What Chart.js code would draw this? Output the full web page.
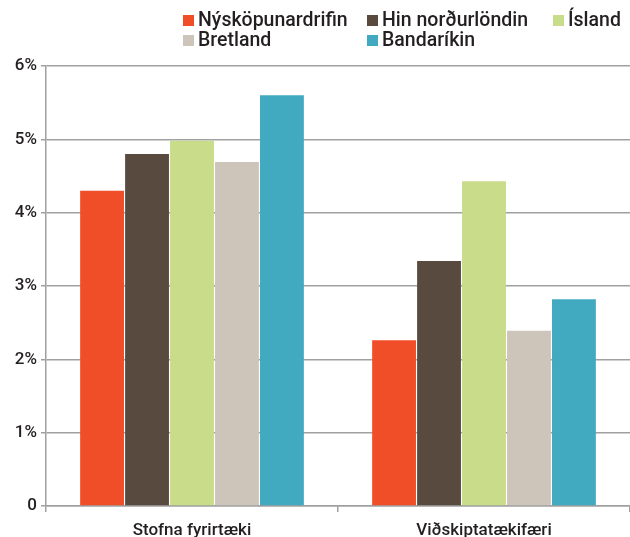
<!DOCTYPE html>
<html>
<head>
<meta charset="utf-8">
<script src="https://cdn.jsdelivr.net/npm/chart.js@4"></script>
<style>
  body { margin: 0; background: #fff; }
  #wrap { position: relative; width: 630px; height: 537px; }
  #legend {
    position: absolute; left: 183px; top: 10px;
    display: grid; grid-template-columns: 184px 186px 80px;
    font-family: Roboto, sans-serif; font-size: 19.5px; font-weight: 500; color: #231f20;
    line-height: 20px;
  }
  #legend span.item { display: flex; align-items: center; white-space: nowrap; }
  #legend span.box { display: inline-block; width: 11px; height: 11px; margin-right: 4px; }
</style>
</head>
<body>
<div id="wrap">
  <canvas id="myChart" width="630" height="537"></canvas>
  <div id="legend"></div>
</div>
<script>
var categories = ["Stofna fyrirtæki", "Viðskiptatækifæri"];
var seriesNames = ["Nýsköpunardrifin", "Hin norðurlöndin", "Ísland", "Bretland", "Bandaríkin"];
var seriesColors = ["#f04e29", "#594a40", "#c8dc89", "#cdc5ba", "#41a9c0"];
var nyskopun = [4.3, 2.26];
var nordurlond = [4.8, 3.34];
var island = [4.98, 4.43];
var bretland = [4.69, 2.39];
var bandarikin = [5.6, 2.82];
var yTicks = [0, 1, 2, 3, 4, 5, 6];

var values = [nyskopun, nordurlond, island, bretland, bandarikin];

var chart = new Chart(document.getElementById("myChart"), {
  type: "bar",
  data: {
    labels: categories,
    datasets: seriesNames.map(function (name, i) {
      return {
        label: name,
        backgroundColor: seriesColors[i],
        data: values[i],
        barPercentage: 0.975,
        categoryPercentage: 0.77,
      };
    }),
  },
  options: {
    responsive: false,
    animation: false,
    layout: { padding: { top: 66, right: -4, left: 0, bottom: 0 } },
    plugins: {
      legend: { display: false },
      tooltip: { enabled: false },
    },
    scales: {
      x: {
        afterFit: function (axis) { axis.height = 31; },
        grid: {
          drawOnChartArea: false,
          color: "#a0a0a0",
          tickLength: 6,
          lineWidth: 1.5,
        },
        border: { color: "#a0a0a0", width: 1.5 },
        ticks: {
          color: "#231f20",
          font: { family: "Roboto, sans-serif", size: 17, weight: "500" },
          padding: 9,
        },
      },
      y: {
        min: 0,
        max: 6,
        afterFit: function (axis) { axis.width = 46; },
        afterBuildTicks: function (axis) {
          axis.ticks = yTicks.map(function (v) { return { value: v }; });
        },
        grid: {
          color: "#a0a0a0",
          lineWidth: 1.5,
          tickLength: 5,
        },
        border: { color: "#a0a0a0", width: 1.5 },
        ticks: {
          color: "#231f20",
          font: { family: "Roboto, sans-serif", size: 17, weight: "500" },
          padding: 4,
          callback: function (v) { return v === 0 ? "0" : v + "%"; },
        },
      },
    },
  },
});

// legend laid out as a grid like the original
var legend = document.getElementById("legend");
chart.data.datasets.forEach(function (ds) {
  var item = document.createElement("span");
  item.className = "item";
  item.innerHTML = '<span class="box" style="background:' + ds.backgroundColor + '"></span>' + ds.label;
  legend.appendChild(item);
});
</script>
</body>
</html>
